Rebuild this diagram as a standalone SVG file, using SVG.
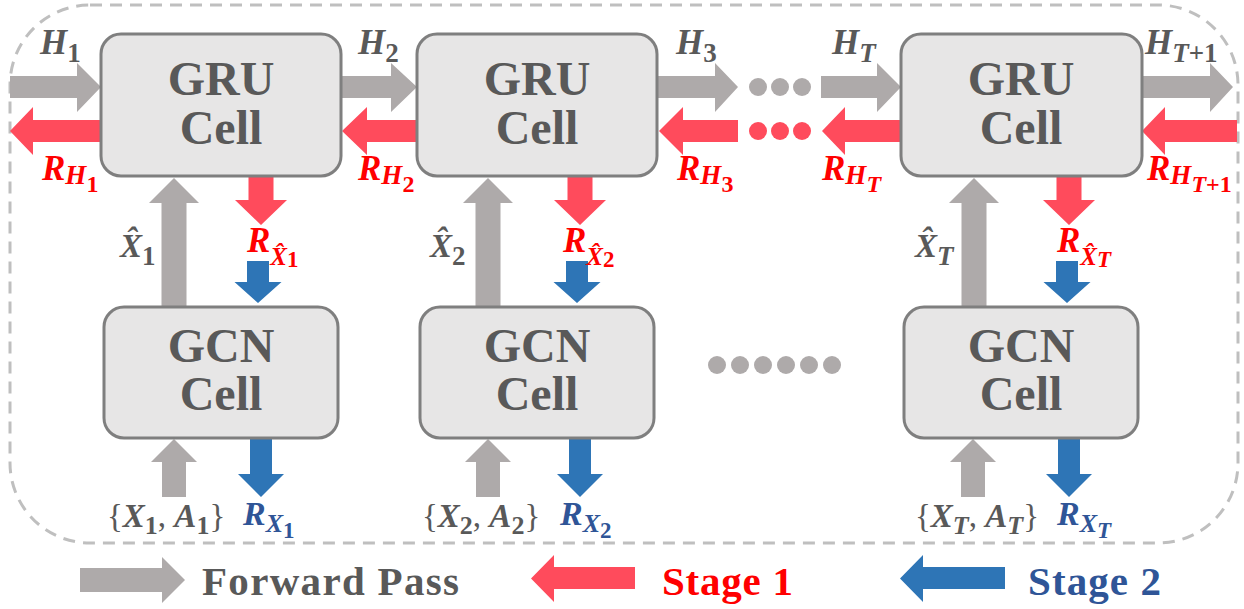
<svg xmlns="http://www.w3.org/2000/svg" width="1244" height="609" viewBox="0 0 1244 609">
<style>
text{font-family:'Liberation Serif','DejaVu Serif',serif}
.frame{fill:none;stroke:#bfbfbf;stroke-width:3;stroke-dasharray:12 8}
.box{fill:#e7e6e6;stroke:#7f7f7f;stroke-width:3}
.cell{font-weight:bold;font-size:48px;fill:#595959;text-anchor:middle}
.m{font-weight:bold;font-style:italic}
.up{font-style:normal}
.g{fill:#595959}.r{fill:#ff0000}.b{fill:#2f5597}
.ag{fill:#aeaaaa}.ar{fill:#ff4b5c}.ab{fill:#2e75b6}
.dg{fill:#aeaaaa}.dr{fill:#ff4b5c}
.leg{font-weight:bold;font-size:41px}
</style>
<rect class="frame" x="10" y="5" width="1228" height="538" rx="80" ry="80"/>

<g id="connectors">
  <polygon class="ag" points="10,76 77,76 77,63 101,87 77,112 77,98 10,98"/>
  <polygon class="ag" points="341,76 391,76 391,63 417,87 391,112 391,98 341,98"/>
  <polygon class="ag" points="657,76 715,76 715,63 738,87 715,112 715,98 657,98"/>
  <polygon class="ag" points="821,76 877,76 877,63 901,87 877,112 877,98 821,98"/>
  <polygon class="ag" points="1142,76 1210,76 1210,63 1233,87 1210,112 1210,98 1142,98"/>
  <circle class="dg" cx="758" cy="87" r="9"/><circle class="dg" cx="780" cy="87" r="9"/><circle class="dg" cx="802" cy="87" r="9"/>
  <polygon class="ar" points="101,120 33,120 33,107 10,131 33,155 33,142 101,142"/>
  <polygon class="ar" points="417,120 367,120 367,107 342,131 367,155 367,142 417,142"/>
  <polygon class="ar" points="738,120 683,120 683,107 659,131 683,155 683,142 738,142"/>
  <polygon class="ar" points="901,120 845,120 845,107 822,131 845,155 845,142 901,142"/>
  <polygon class="ar" points="1237,120 1165,120 1165,107 1142,131 1165,155 1165,142 1237,142"/>
  <circle class="dr" cx="758" cy="131" r="9"/><circle class="dr" cx="780" cy="131" r="9"/><circle class="dr" cx="802" cy="131" r="9"/>
  <polygon class="ag" points="161.5,307 161.5,203 149,203 174,178 199,203 186.5,203 186.5,307"/>
  <polygon class="ag" points="475.5,307 475.5,203 463,203 488,178 513,203 500.5,203 500.5,307"/>
  <polygon class="ag" points="961.5,307 961.5,203 949,203 974,178 999,203 986.5,203 986.5,307"/>
  <polygon class="ar" points="248.5,176 273.5,176 273.5,200 287,200 261,225 235,200 248.5,200"/>
  <polygon class="ar" points="567.5,176 592.5,176 592.5,200 606,200 580,225 554,200 567.5,200"/>
  <polygon class="ar" points="1056.5,176 1081.5,176 1081.5,200 1095,200 1069,225 1043,200 1056.5,200"/>
  <polygon class="ab" points="247,261 269,261 269,282 281.5,282 258,303 234.5,282 247,282"/>
  <polygon class="ab" points="566,261 588,261 588,282 600.5,282 577,303 553.5,282 566,282"/>
  <polygon class="ab" points="1056,261 1078,261 1078,282 1090.5,282 1067,303 1043.5,282 1056,282"/>
  <polygon class="ag" points="162,497 162,462 151,462 174,439 197,462 186,462 186,497"/>
  <polygon class="ag" points="476,497 476,462 465,462 488,439 511,462 500,462 500,497"/>
  <polygon class="ag" points="961,497 961,462 950,462 973,439 996,462 985,462 985,497"/>
  <polygon class="ab" points="250,438 272,438 272,474 284,474 261,497 238,474 250,474"/>
  <polygon class="ab" points="569,438 591,438 591,474 603,474 580,497 557,474 569,474"/>
  <polygon class="ab" points="1058,438 1080,438 1080,474 1092,474 1069,497 1046,474 1058,474"/>
</g>

<g id="gru1"><rect class="box" x="101" y="34" width="240" height="142" rx="20"/>
  <text class="cell" x="221" y="95">GRU</text><text class="cell" x="221" y="144">Cell</text></g>
<g id="gru2"><rect class="box" x="417" y="34" width="240" height="142" rx="20"/>
  <text class="cell" x="537" y="95">GRU</text><text class="cell" x="537" y="144">Cell</text></g>
<g id="gru3"><rect class="box" x="901" y="34" width="241" height="142" rx="20"/>
  <text class="cell" x="1021" y="95">GRU</text><text class="cell" x="1021" y="144">Cell</text></g>

<g id="gcn1"><rect class="box" x="104" y="307" width="234" height="131" rx="20"/>
  <text class="cell" x="221" y="362">GCN</text><text class="cell" x="221" y="410">Cell</text></g>
<g id="gcn2"><rect class="box" x="420" y="307" width="234" height="131" rx="20"/>
  <text class="cell" x="537" y="362">GCN</text><text class="cell" x="537" y="410">Cell</text></g>
<g id="gcn3"><rect class="box" x="904" y="307" width="234" height="131" rx="20"/>
  <text class="cell" x="1021" y="362">GCN</text><text class="cell" x="1021" y="410">Cell</text></g>

<g id="gcn-ellipsis">
  <circle class="dg" cx="717" cy="365" r="9"/><circle class="dg" cx="740" cy="365" r="9"/><circle class="dg" cx="763" cy="365" r="9"/>
  <circle class="dg" cx="786" cy="365" r="9"/><circle class="dg" cx="809" cy="365" r="9"/><circle class="dg" cx="832" cy="365" r="9"/>
</g>

<g id="labels-h">
  <text class="m g" x="40" y="54" font-size="35">H<tspan class="up" font-size="27" dy="8">1</tspan></text>
  <text class="m g" x="358" y="54" font-size="35">H<tspan class="up" font-size="27" dy="8">2</tspan></text>
  <text class="m g" x="676" y="54" font-size="35">H<tspan class="up" font-size="27" dy="8">3</tspan></text>
  <text class="m g" x="832" y="54" font-size="35">H<tspan font-size="27" dy="8">T</tspan></text>
  <text class="m g" x="1145" y="54" font-size="35">H<tspan font-size="27" dy="8">T</tspan><tspan class="up" font-size="27">+1</tspan></text>
</g>
<g id="labels-rh">
  <text class="m r" x="42" y="180" font-size="35">R<tspan font-size="27" dy="4">H</tspan><tspan class="up" font-size="24" dy="8">1</tspan></text>
  <text class="m r" x="358" y="180" font-size="35">R<tspan font-size="27" dy="4">H</tspan><tspan class="up" font-size="24" dy="8">2</tspan></text>
  <text class="m r" x="677" y="180" font-size="35">R<tspan font-size="27" dy="4">H</tspan><tspan class="up" font-size="24" dy="8">3</tspan></text>
  <text class="m r" x="822" y="180" font-size="35">R<tspan font-size="27" dy="4">H</tspan><tspan font-size="24" dy="8">T</tspan></text>
  <text class="m r" x="1147" y="180" font-size="35">R<tspan font-size="27" dy="4">H</tspan><tspan font-size="24" dy="8">T</tspan><tspan class="up" font-size="24">+1</tspan></text>
</g>
<g id="labels-xhat">
  <text class="m g" x="120" y="257" font-size="33">X&#x302;<tspan class="up" font-size="27" dy="8">1</tspan></text>
  <text class="m g" x="430" y="257" font-size="33">X&#x302;<tspan class="up" font-size="27" dy="8">2</tspan></text>
  <text class="m g" x="915" y="257" font-size="33">X&#x302;<tspan font-size="27" dy="8">T</tspan></text>
  <text class="m r" x="247" y="252" font-size="35">R<tspan font-size="25" dy="13">X&#x302;</tspan><tspan class="up" font-size="23" dy="2">1</tspan></text>
  <text class="m r" x="563" y="252" font-size="35">R<tspan font-size="25" dy="13">X&#x302;</tspan><tspan class="up" font-size="23" dy="2">2</tspan></text>
  <text class="m r" x="1057" y="252" font-size="35">R<tspan font-size="25" dy="13">X&#x302;</tspan><tspan font-size="23" dy="2">T</tspan></text>
</g>
<g id="labels-input">
  <text class="m g" x="107" y="527" font-size="33"><tspan class="up" font-weight="normal">{</tspan>X<tspan class="up" font-size="26" dy="7">1</tspan><tspan class="up" font-weight="normal" dy="-7">, </tspan>A<tspan class="up" font-size="26" dy="7">1</tspan><tspan class="up" font-weight="normal" dy="-7">}</tspan></text>
  <text class="m g" x="422" y="527" font-size="33"><tspan class="up" font-weight="normal">{</tspan>X<tspan class="up" font-size="26" dy="7">2</tspan><tspan class="up" font-weight="normal" dy="-7">, </tspan>A<tspan class="up" font-size="26" dy="7">2</tspan><tspan class="up" font-weight="normal" dy="-7">}</tspan></text>
  <text class="m g" x="915" y="527" font-size="33"><tspan class="up" font-weight="normal">{</tspan>X<tspan font-size="26" dy="7">T</tspan><tspan class="up" font-weight="normal" dy="-7">, </tspan>A<tspan font-size="26" dy="7">T</tspan><tspan class="up" font-weight="normal" dy="-7">}</tspan></text>
  <text class="m b" x="243" y="525" font-size="34">R<tspan font-size="26" dy="7">X</tspan><tspan class="up" font-size="23" dy="6">1</tspan></text>
  <text class="m b" x="560" y="525" font-size="34">R<tspan font-size="26" dy="7">X</tspan><tspan class="up" font-size="23" dy="6">2</tspan></text>
  <text class="m b" x="1057" y="525" font-size="34">R<tspan font-size="26" dy="7">X</tspan><tspan font-size="23" dy="6">T</tspan></text>
</g>

<g id="legend">
  <polygon class="ag" points="80,568 162,568 162,557 185,580 162,603 162,592 80,592"/>
  <text class="leg" x="202" y="595" fill="#595959" textLength="257" lengthAdjust="spacing">Forward Pass</text>
  <polygon class="ar" points="635,567 554,567 554,555 531,578.5 554,602 554,589 635,589"/>
  <text class="leg" x="662" y="595" fill="#ff0000" textLength="131" lengthAdjust="spacing">Stage 1</text>
  <polygon class="ab" points="1005,567 923,567 923,555 900,578.5 923,602 923,589 1005,589"/>
  <text class="leg" x="1028" y="595" fill="#2f5597" textLength="133" lengthAdjust="spacing">Stage 2</text>
</g>
</svg>
